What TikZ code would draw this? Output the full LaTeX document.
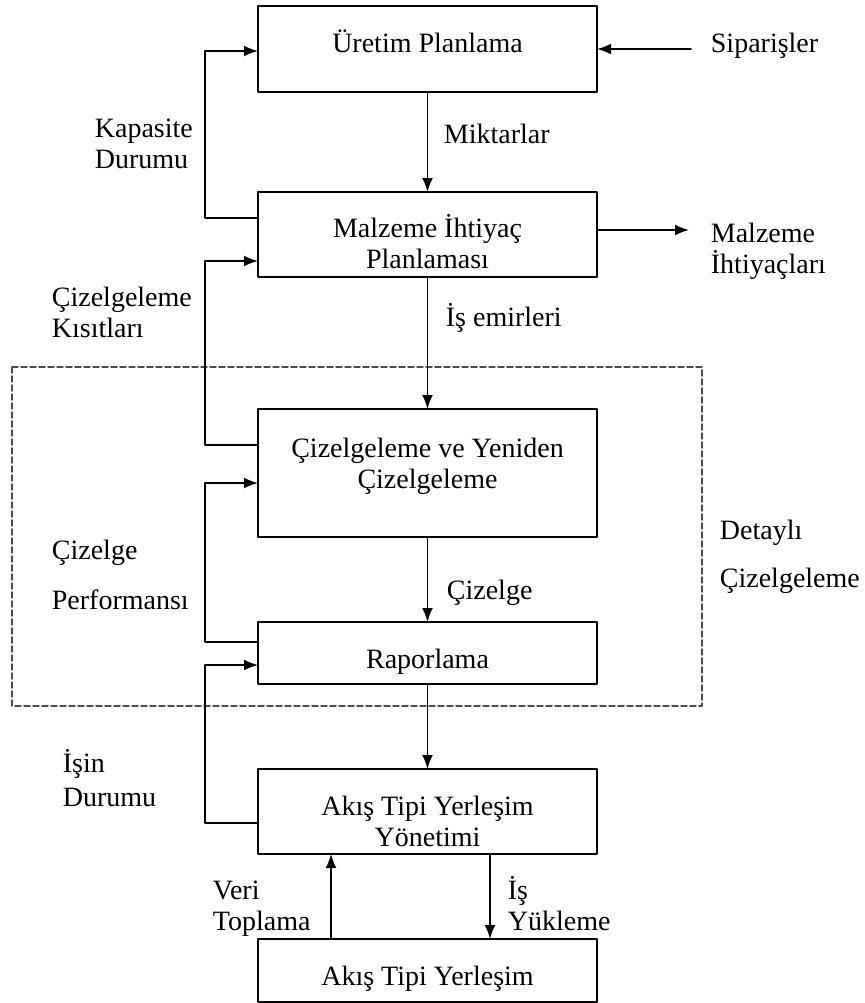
\documentclass[tikz,border=0pt]{standalone}
\usepackage{fontspec}
\setmainfont{Liberation Serif}
\usetikzlibrary{arrows.meta}

\begin{document}
\begin{tikzpicture}[x=.5pt,y=-.5pt,line width=.9pt,>={Latex[length=7pt,width=5.5pt]},
  line cap=round,line join=round,font=\fontsize{14}{15.5}\selectfont,
  box/.style={draw,line width=1.2pt,minimum width=169.5pt,inner sep=0pt,outer sep=0pt},
  lbl/.style={inner sep=0pt,align=left,anchor=base west},
  intxt/.style={inner sep=0pt,align=center,anchor=base}]
  \useasboundingbox (0,0) rectangle (864,1003);
  % boxes
  \node[box,minimum height=43pt] (uretim) at (427.5,49) {};
  \node[box,minimum height=42.5pt] (mip) at (427.5,234.5) {};
  \node[box,minimum height=64pt] (cizel) at (427.5,473) {};
  \node[box,minimum height=31pt] (rapor) at (427.5,653) {};
  \node[box,minimum height=42.5pt] (yonetim) at (427.5,811.5) {};
  \node[box,minimum height=31.5pt] (yerlesim) at (427.5,970.5) {};
  \node[intxt] (uretimT) at (427.5,52) {Üretim Planlama};
  \node[intxt] (mipT) at (427.5,268) {Malzeme İhtiyaç\\Planlaması};
  \node[intxt] (cizelT) at (427.5,488) {Çizelgeleme ve Yeniden\\Çizelgeleme};
  \node[intxt] (raporT) at (427.5,668) {Raporlama};
  \node[intxt] (yonetimT) at (427.5,846) {Akış Tipi Yerleşim\\Yönetimi};
  \node[intxt] (yerlesimT) at (427.5,985) {Akış Tipi Yerleşim};
  % dashed frame
  \draw[dash pattern=on 3pt off 1.5pt,line width=.7pt,black!70] (12,367) rectangle (702,706);
  % side texts
  \node[lbl] (siparis) at (710,52) {Siparişler};
  \node[lbl] (ihtiyac) at (710,273) {Malzeme\\İhtiyaçları};
  \node[lbl] (kapasite) at (94,168) {Kapasite\\Durumu};
  \node[lbl] (miktar) at (443,143) {Miktarlar};
  \node[lbl] (kisit) at (51,337) {Çizelgeleme\\Kısıtları};
  \node[lbl] (emir) at (445,326) {İş emirleri};
  \node[lbl] (perf) at (51,609) {Çizelge\\[9.5pt]Performansı};
  \node[lbl] (detay) at (719,587) {Detaylı\\[8.5pt]Çizelgeleme};
  \node[lbl] (cizelge) at (446,599) {Çizelge};
  \node[lbl] (durum) at (62,806) {İşin\\[1.5pt]Durumu};
  \node[lbl] (veri) at (212,930) {Veri\\Toplama};
  \node[lbl] (yukleme) at (507,930) {İş\\Yükleme};
  % arrows
  \coordinate (sipS) at (691,49);
  \coordinate (ihtE) at (689,230);
  \draw[->] (sipS) -- (sipS -| uretim.east);
  \draw[->] (mip.east |- ihtE) -- (ihtE);
  \foreach \a/\b in {uretim/mip,mip/cizel,cizel/rapor,rapor/yonetim}
    \draw[->] (\a) -- (\b);
  \foreach \src/\dst/\ya/\yb in {mip/uretim/218/51,cizel/mip/445/261,
    rapor/cizel/642/483,yonetim/rapor/823/665}
    \draw[->] (\src.west |- 0,\ya) -- (205,\ya) |- (\dst.west |- 0,\yb);
  \draw[->] (yerlesim.north -| 331,0) -- (yonetim.south -| 331,0);
  \draw[->] (yonetim.south -| 490,0) -- (yerlesim.north -| 490,0);
\end{tikzpicture}
\end{document}
